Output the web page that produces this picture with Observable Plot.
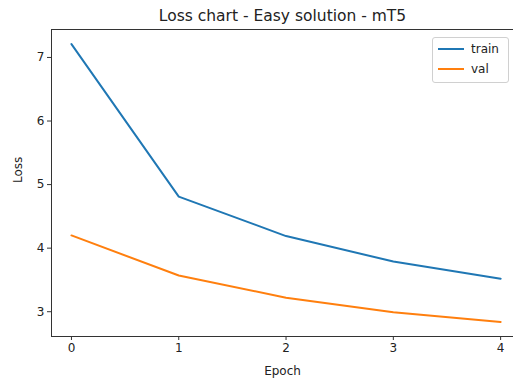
<!DOCTYPE html>
<html>
<head>
<meta charset="utf-8">
<script src="https://cdn.jsdelivr.net/npm/d3@7"></script>
<script src="https://cdn.jsdelivr.net/npm/@observablehq/plot@0.6"></script>
<style>
  html, body { margin: 0; padding: 0; background: #fff; overflow: hidden; }
  #wrap { position: relative; width: 513px; height: 383px; font-family: "DejaVu Sans", sans-serif; }
  #legend { position: absolute; left: 432px; top: 37px; width: 77px; height: 46px; border: 1px solid #d0d0d0; border-radius: 3px; background: #fff; box-sizing: border-box; font-size: 12px; color: #222; }
  .item { position: absolute; left: 5px; height: 14px; display: flex; align-items: center; }
  .swatch { width: 26px; height: 2px; margin-right: 7px; }
</style>
</head>
<body>
<div id="wrap"><div id="legend"></div></div>
<script>
const epochs = [0, 1, 2, 3, 4];
const trainLoss = [7.21, 4.81, 4.19, 3.79, 3.52];
const valLoss = [4.20, 3.57, 3.22, 2.99, 2.84];
const seriesNames = ["train", "val"];
const seriesColors = ["#1f77b4", "#ff7f0e"];
const xTicks = [0, 1, 2, 3, 4];
const yTicks = [3, 4, 5, 6, 7];
const title = "Loss chart - Easy solution - mT5";

const rows = [];
epochs.forEach((e, i) => rows.push({epoch: e, loss: trainLoss[i], series: "train"}));
epochs.forEach((e, i) => rows.push({epoch: e, loss: valLoss[i], series: "val"}));

const xDomain = [-0.186, 4.12];
const yDomain = [2.61, 7.44];
const fmt = d => String(d);

const chart = Plot.plot({
  width: 513,
  height: 383,
  marginLeft: 51,
  marginRight: 0,
  marginTop: 29,
  marginBottom: 47,
  style: {fontFamily: "DejaVu Sans, sans-serif", fontSize: "12px", color: "#222", background: "#fff"},
  x: {domain: xDomain, label: null},
  y: {domain: yDomain, label: null},
  color: {domain: seriesNames, range: seriesColors},
  marks: [
    Plot.line(rows, {x: "epoch", y: "loss", stroke: "series", z: "series", strokeWidth: 2}),
    Plot.ruleX([xDomain[0]], {stroke: "#333", strokeWidth: 1}),
    Plot.ruleY([yDomain[0], yDomain[1]], {stroke: "#333", strokeWidth: 1}),
    Plot.axisX({ticks: xTicks, tickFormat: fmt, tickSize: 4, tickPadding: 3, stroke: "#333", fontSize: 12, label: null}),
    Plot.axisY({ticks: yTicks, tickFormat: fmt, tickSize: 4, tickPadding: 3, stroke: "#333", fontSize: 12, label: null}),
    Plot.text([title], {frameAnchor: "top", dy: -20, fontSize: 15.5, fill: "#222"}),
    Plot.text(["Epoch"], {frameAnchor: "bottom", dy: 38, fontSize: 12, fill: "#222"}),
    Plot.text(["Loss"], {frameAnchor: "left", dx: -33, rotate: -90, fontSize: 12, fill: "#222"})
  ]
});
document.getElementById("wrap").prepend(chart);

const legend = document.getElementById("legend");
seriesNames.forEach((name, i) => {
  const item = document.createElement("div");
  item.className = "item";
  item.style.top = (4 + i * 20) + "px";
  const sw = document.createElement("div");
  sw.className = "swatch";
  sw.style.background = seriesColors[i];
  const label = document.createElement("span");
  label.textContent = name;
  item.appendChild(sw);
  item.appendChild(label);
  legend.appendChild(item);
});
</script>
</body>
</html>
